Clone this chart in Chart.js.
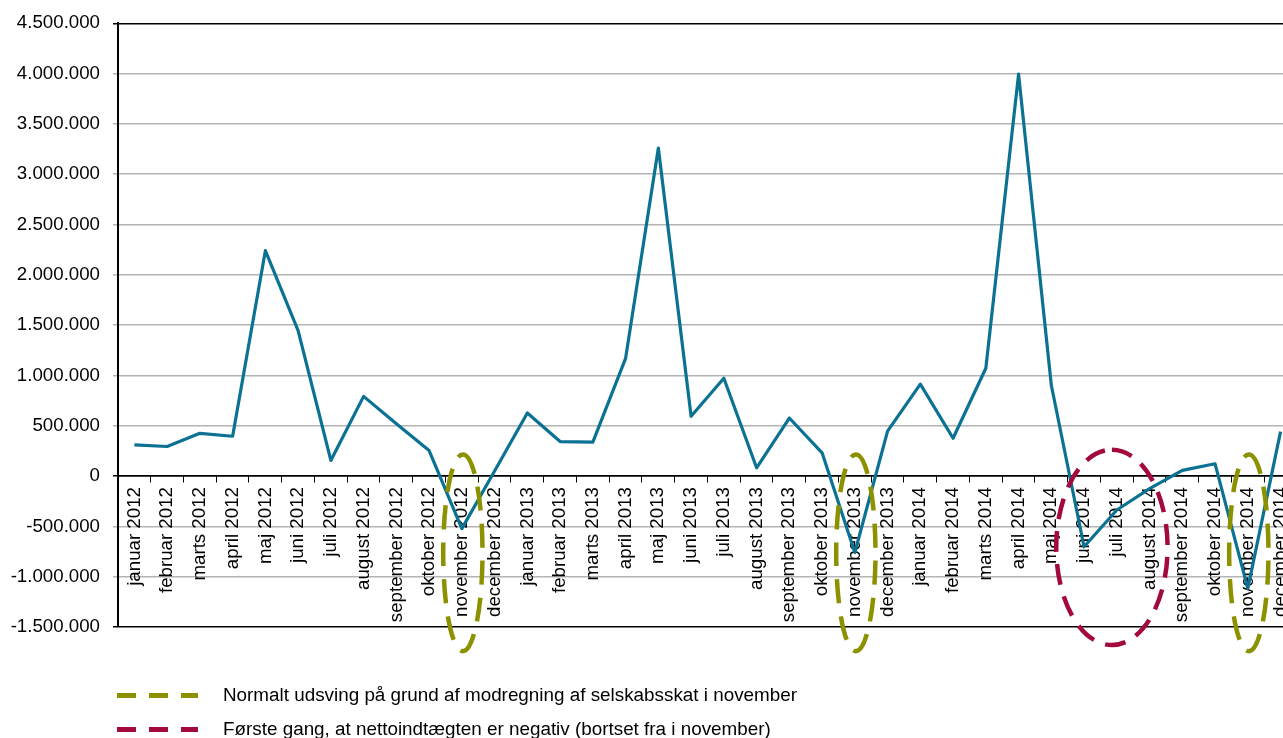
<!DOCTYPE html>
<html lang="da">
<head>
<meta charset="UTF-8">
<title>Nettoindtægt pr. måned</title>
<script src="https://cdn.jsdelivr.net/npm/chart.js"></script>
<style>
  body { margin: 0; background: #fff; font-family: "Liberation Sans", Arial, sans-serif; }
  #wrap { position: relative; width: 1283px; height: 738px; overflow: hidden; }
  #chartCanvas { position: absolute; left: 0; top: 0; }
  .legend-row { position: absolute; left: 117px; height: 24px; display: flex; align-items: center; font-size: 18.85px; color: #000; white-space: nowrap; }
  .legend-row .dash { display: inline-block; width: 19px; height: 5px; margin-right: 13px; }
  .legend-row .dash.last { width: 17px; margin-right: 0; }
  .legend-row .label { margin-left: 25px; }
</style>
</head>
<body>
<div id="wrap">
  <canvas id="chartCanvas" width="1308" height="738"></canvas>
  <div class="legend-row" style="top:683px">
    <span class="dash" style="background:#8c9100"></span><span class="dash" style="background:#8c9100"></span><span class="dash last" style="background:#8c9100"></span>
    <span class="label">Normalt udsving på grund af modregning af selskabsskat i november</span>
  </div>
  <div class="legend-row" style="top:717px">
    <span class="dash" style="background:#a3093f"></span><span class="dash" style="background:#a3093f"></span><span class="dash last" style="background:#a3093f"></span>
    <span class="label">Første gang, at nettoindtægten er negativ (bortset fra i november)</span>
  </div>
</div>

<script>
  // måneder
  const months = ['januar', 'februar', 'marts', 'april', 'maj', 'juni', 'juli', 'august', 'september', 'oktober', 'november', 'december'];
  const years = [2012, 2013, 2014];
  const labels = years.flatMap(y => months.map(m => m + ' ' + y));

  // nettoindtægt (kr.)
  const values2012 = [310000, 294000, 425000, 396000, 2240000, 1445000, 155000, 792000, 520000, 254000, -522000, 50000];
  const values2013 = [627000, 343000, 337000, 1170000, 3260000, 594000, 972000, 82000, 577000, 231000, -760000, 446000];
  const values2014 = [914000, 376000, 1072000, 3995000, 903000, -703000, -337000, -125000, 56000, 122000, -1116000, 442000];
  const values = values2012.concat(values2013, values2014);

  // markeringer (ellipser) i kategori / værdi-enheder
  const novemberRings = ['november 2012', 'november 2013', 'november 2014'];
  const novemberRingRange = [215000, -1740000];
  const negativeRingCenter = 29.85;   // mellem juni og juli 2014
  const negativeRingRange = [262000, -1680000];

  function fmt(v) {
    return v.toString().replace(/\B(?=(\d{3})+(?!\d))/g, '.');
  }

  const ringPlugin = {
    id: 'rings',
    afterDraw(chart) {
      const ctx = chart.ctx;
      const x = chart.scales.x, y = chart.scales.y;
      const catW = x.getPixelForValue(1) - x.getPixelForValue(0);

      function ring(cx, top, bottom, rx, color, dash) {
        const yt = y.getPixelForValue(top), yb = y.getPixelForValue(bottom);
        ctx.save();
        ctx.strokeStyle = color;
        ctx.lineWidth = 4.5;
        ctx.setLineDash(dash);
        ctx.beginPath();
        ctx.ellipse(cx, (yt + yb) / 2, rx, (yb - yt) / 2, 0, -Math.PI / 2, Math.PI * 1.5);
        ctx.stroke();
        ctx.restore();
      }

      novemberRings.forEach(lbl => {
        const cx = x.getPixelForValue(labels.indexOf(lbl)) + 1;
        ring(cx, novemberRingRange[0], novemberRingRange[1], catW * 0.6, '#8c9100', [24, 13]);
      });
      const cx = x.getPixelForValue(0) + negativeRingCenter * catW;
      ring(cx, negativeRingRange[0], negativeRingRange[1], catW * 1.7, '#a3093f', [21, 12]);
    }
  };

  const tickFont = { family: '"Liberation Sans", Arial, sans-serif', size: 18.7 };

  new Chart(document.getElementById('chartCanvas'), {
    type: 'line',
    data: {
      labels: labels,
      datasets: [{
        data: values,
        borderColor: '#0b7294',
        borderWidth: 3.2,
        borderJoinStyle: 'round',
        pointRadius: 0,
        tension: 0,
        fill: false
      }]
    },
    options: {
      responsive: false,
      animation: false,
      layout: { padding: { top: 0, bottom: 111, left: 0, right: 0 } },
      plugins: { legend: { display: false }, tooltip: { enabled: false } },
      scales: {
        x: {
          position: { y: 0 },
          offset: true,
          grid: { display: true, drawOnChartArea: false, offset: true, tickLength: 6, color: '#000', lineWidth: 1 },
          border: { display: true, color: '#000', width: 1.5 },
          ticks: { color: '#000', font: tickFont, minRotation: 90, maxRotation: 90, autoSkip: false, padding: 5 }
        },
        y: {
          min: -1500000,
          max: 4500000,
          afterFit(scale) { scale.width = 118; },
          grid: {
            tickLength: 5,
            lineWidth: 1.5,
            color: c => (c.tick && (c.tick.value === 4500000 || c.tick.value === -1500000 || c.tick.value === 0)) ? '#000' : '#b4b4b4'
          },
          border: { display: true, color: '#000', width: 2 },
          ticks: { stepSize: 500000, color: '#000', font: Object.assign({ lineHeight: 1.1 }, tickFont), padding: 13, callback: v => fmt(v) }
        }
      }
    },
    plugins: [ringPlugin]
  });
</script>
</body>
</html>
